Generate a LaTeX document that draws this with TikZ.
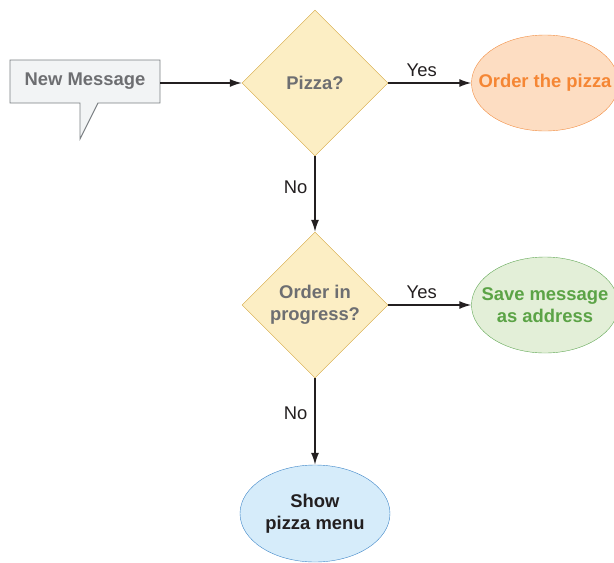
\documentclass[tikz,border=0pt]{standalone}
\usepackage{fontspec}
\setmainfont{Liberation Sans}
\usepackage{tikz}
\usetikzlibrary{calc,positioning,arrows.meta,shapes.geometric}

\definecolor{msgfill}{HTML}{F2F4F5}
\definecolor{msgline}{HTML}{7A7F82}
\definecolor{greytext}{HTML}{6D6E71}
\definecolor{darktext}{HTML}{231F20}
\definecolor{askfill}{HTML}{FCEEC4}
\definecolor{askline}{HTML}{D4A53C}
\definecolor{orderfill}{HTML}{FDDDC2}
\definecolor{orderline}{HTML}{F28E43}
\definecolor{ordertext}{HTML}{F58634}
\definecolor{savefill}{HTML}{E3EFD8}
\definecolor{saveline}{HTML}{62A856}
\definecolor{savetext}{HTML}{5BA346}
\definecolor{menufill}{HTML}{D6ECFA}
\definecolor{menuline}{HTML}{3F86C8}

\begin{document}
\begin{tikzpicture}
[x=1pt,y=-1pt]

    \tikzstyle{every node}=[font=\fontsize{18.4}{22}\selectfont\bfseries,
                            align=center,inner sep=0pt]
    \tikzstyle{ask}=[draw=askline,fill=askfill,diamond,aspect=1,
                     minimum width=146pt,minimum height=146pt,text=greytext]
    \tikzstyle{todo}=[ellipse,minimum width=147pt,minimum height=96pt]
    \tikzstyle{flow}=[draw=darktext,line width=1.4pt,
                      -{Latex[length=12pt,width=8pt]}]
    \tikzstyle{answer}=[font=\fontsize{18.4}{20}\selectfont,text=darktext]

    \useasboundingbox (0,0) rectangle (614,563);
    \clip (0,0) rectangle (614,563);

    % the speech bubble with its tail
    \draw[draw=msgline,fill=msgfill,line width=0.9pt]
        (10,60) -- (160,60) -- (160,103) -- (98,103) -- (80,139)
        -- (80,103) -- (10,103) -- cycle;
    \node (msg) [text=greytext] at (85,81) {New Message};
    \coordinate (msgout) at (160,83);

    % the two questions
    \node (pizza) [ask] at (315,83) {Pizza?};
    \node (busy) [ask] at (315,305) {Order in\\progress?};

    % what is done (the shapes first, the words on top)
    \node (order) [todo,draw=orderline,fill=orderfill] at (545,83) {};
    \node (orderlbl) [text=ordertext] at (order) {Order the pizza};
    \node (save) [todo,draw=saveline,fill=savefill] at (545,305) {};
    \node (savelbl) [text=savetext] at (save) {Save message\\as address};
    \node (menu) [todo,draw=menuline,fill=menufill,
                  minimum width=150pt,minimum height=97pt] at (315,513.5) {};
    \node (menulbl) [text=darktext] at (menu) {Show\\pizza menu};

    % connectors
    \draw[flow] (msgout) -- (pizza.west);
    \draw[flow] (pizza.east) -- node (yes1) [answer,above=6pt,xshift=-8pt] {Yes} (order.west);
    \draw[flow] (pizza.south) -- node (no1) [answer,left=7pt,yshift=7pt] {No} (busy.north);
    \draw[flow] (busy.east) -- node (yes2) [answer,above=6pt,xshift=-8pt] {Yes} (save.west);
    \draw[flow] (busy.south) -- node (no2) [answer,left=7pt,pos=0.4] {No} (menu.north);

 \end{tikzpicture}
\end{document}
